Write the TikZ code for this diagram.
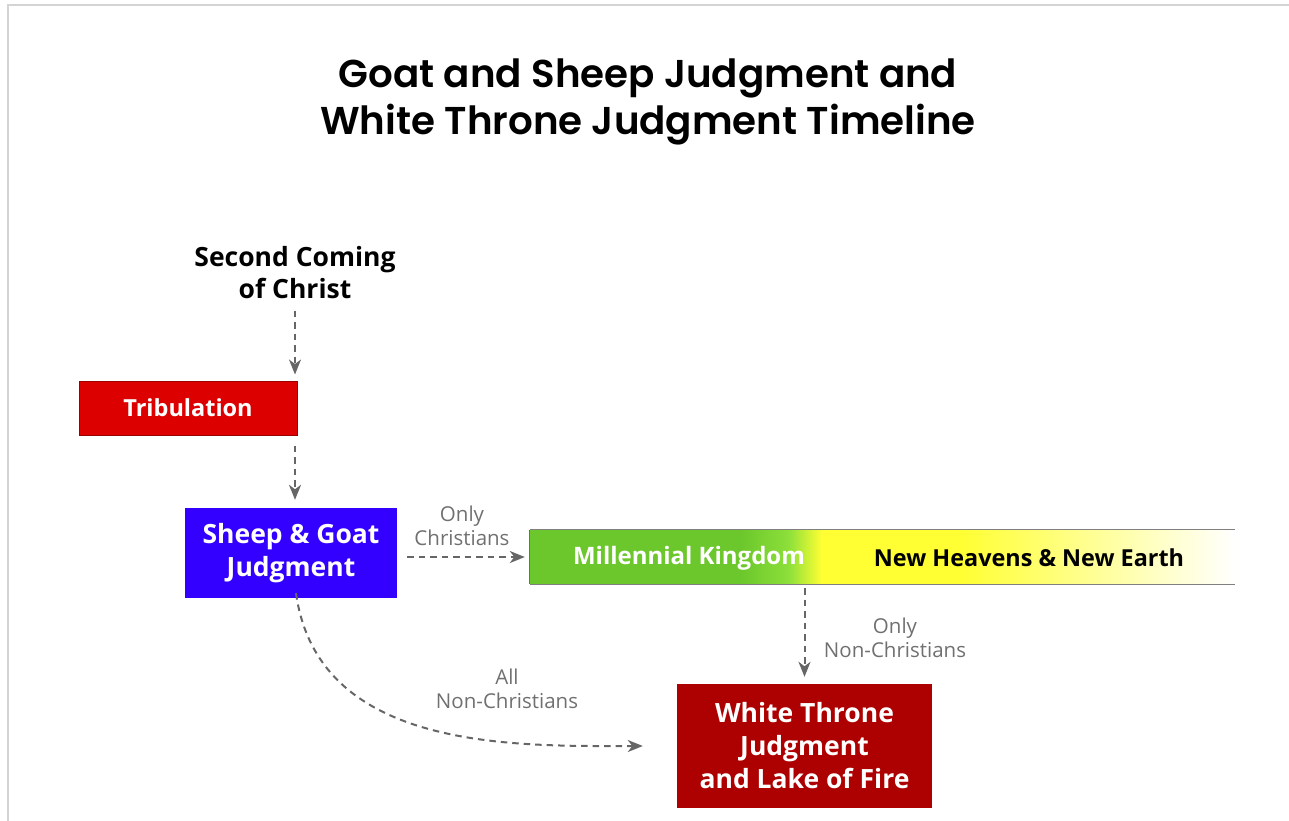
\documentclass[tikz,border=0pt]{standalone}
\usepackage{fontspec}
\setmainfont{Open Sans}
\newfontfamily\titlefont{Poppins}[UprightFont={* SemiBold}]
\usetikzlibrary{arrows.meta}
\definecolor{framegray}{HTML}{D4D4D4}
\definecolor{flowgray}{HTML}{666666}
\definecolor{notegray}{HTML}{707070}
\definecolor{tribred}{HTML}{DD0000}
\definecolor{sgblue}{HTML}{3300FF}
\definecolor{wtred}{HTML}{AD0000}
\definecolor{mkgreen}{HTML}{6CC72C}
\definecolor{mklight}{HTML}{8EE03A}
\definecolor{nhyellow}{HTML}{FFFF33}

\begin{document}
\begin{tikzpicture}[x=1pt,y=-1pt,
    box/.style={inner sep=0pt, align=center, text=white,
      font=\bfseries\fontsize{26.5}{33}\selectfont},
    note/.style={align=center, text=notegray,
      font=\fontsize{20.5}{24.5}\selectfont},
    flow/.style={draw=flowgray, line width=2pt, dash pattern=on 6.5pt off 5pt,
      -{Stealth[length=15pt,width=12pt,inset=4.5pt]}}]

    \useasboundingbox (0,0) rectangle (1289,820);
    \draw[framegray, line width=2pt] (8,822) -- (8,5) -- (1291,5);

    \node[align=center, font=\titlefont\fontsize{38.8}{47}\selectfont] (title) at (648,102)
        {Goat and Sheep Judgment and\\White Throne Judgment Timeline};

    \node[align=center, font=\bfseries\fontsize{26.5}{32}\selectfont] (sc) at (295,273)
        {Second Coming\\of Christ};
    \node[box, font=\bfseries\fontsize{23.5}{32}\selectfont, fill=tribred,
        draw=tribred!70!black, line width=1pt,
        minimum width=218, minimum height=54] (trib) at (188,408) {Tribulation};
    \node[box, fill=sgblue, minimum width=212, minimum height=90] (sg) at (291,553)
        {Sheep \& Goat\\Judgment};
    \node[box, fill=wtred, minimum width=255, minimum height=124] (wt) at (804.5,746)
        {White Throne\\Judgment\\and Lake of Fire};

    \shade[left color=mkgreen, right color=mkgreen] (530,530) rectangle (742,584);
    \shade[left color=mkgreen, right color=mklight] (741,530) rectangle (790,584);
    \shade[left color=mklight, right color=nhyellow] (789,530) rectangle (822,584);
    \shade[left color=nhyellow, right color=nhyellow] (821,530) rectangle (962,584);
    \shade[left color=nhyellow, right color=white] (961,530) rectangle (1235,584);
    \node[minimum width=705, minimum height=54, inner sep=0pt] (bar) at (882.5,557) {};
    \draw[gray, line width=1pt] (bar.north west) -- (bar.north east);
    \draw[gray, line width=1pt] (bar.south west) -- (bar.south east);
    \draw[mkgreen!70!black, line width=1pt] (bar.north west) -- (bar.south west);
    \node[box, font=\bfseries\fontsize{24}{32}\selectfont] (mk) at (689,558)
        {Millennial Kingdom};
    \node[box, font=\bfseries\fontsize{23.4}{32}\selectfont, text=black] (nh) at (1029,558)
        {New Heavens \& New Earth};

    \draw[flow, shorten <=8pt, shorten >=6pt] (sc) -- (sc |- trib.north);
    \draw[flow, shorten <=10pt, shorten >=8pt] (sc |- trib.south) -- (sc |- sg.north);
    \draw[flow, shorten <=10pt, shorten >=5pt] (sg.east |- bar) -- (bar.west);
    \draw[flow, shorten <=4pt, shorten >=7pt] (wt.north |- bar.south) -- (wt.north);
    \draw[flow, shorten >=34pt] ([xshift=5pt, yshift=5pt]sg.south)
        to[out=-82, in=180] (wt.west);

    \node[note] (l1) at (462,526) {Only\\Christians};
    \node[note] (l2) at (895,638) {Only\\Non-Christians};
    \node[note] (l3) at (507,689) {All\\Non-Christians};
\end{tikzpicture}
\end{document}
